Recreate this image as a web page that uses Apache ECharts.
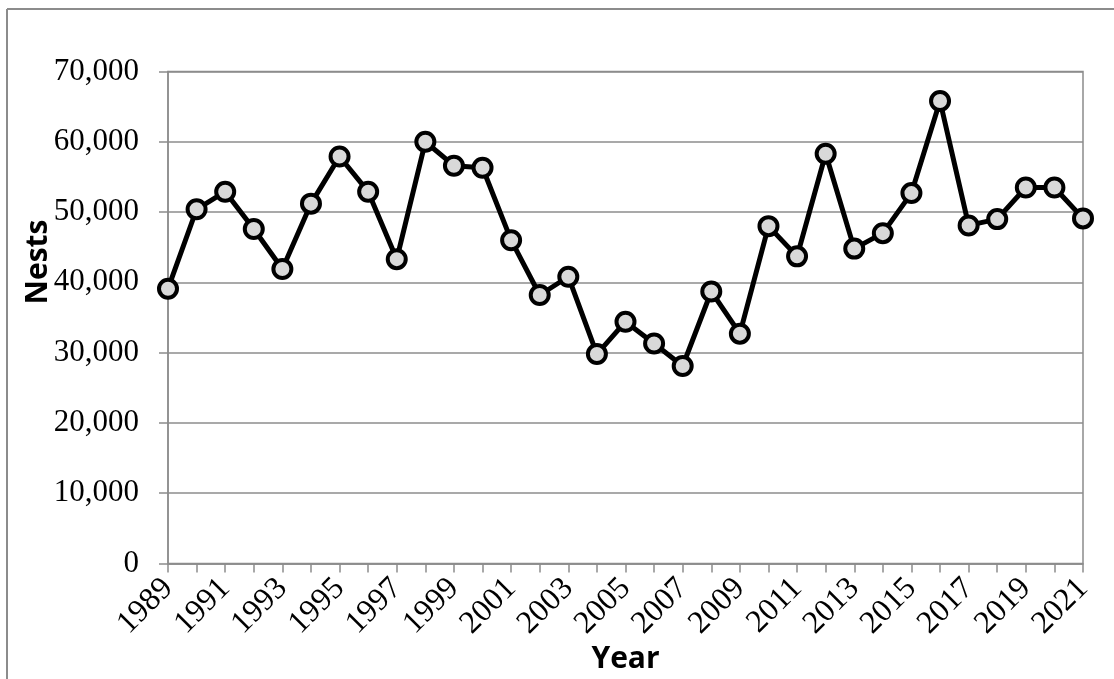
<!DOCTYPE html>
<html>
<head>
<meta charset="utf-8">
<script src="https://cdn.jsdelivr.net/npm/echarts@6/dist/echarts.min.js"></script>
<style>
html,body{margin:0;padding:0;background:#fff;}
#chart{width:1114px;height:679px;}
</style>
</head>
<body>
<div id="chart"></div>
<script>
const years = ['1989','1990','1991','1992','1993','1994','1995','1996','1997','1998','1999','2000','2001','2002','2003','2004','2005','2006','2007','2008','2009','2010','2011','2012','2013','2014','2015','2016','2017','2018','2019','2020','2021'];
const nests = [39100,50400,52900,47600,41900,51200,57900,52900,43300,60000,56600,56300,46000,38200,40800,29800,34400,31300,28100,38700,32700,48000,43700,58300,44800,47000,52700,65800,48100,49000,53500,53500,49100];
const yTicks = {min:0, max:70000, interval:10000};

const chart = echarts.init(document.getElementById('chart'), null, {renderer:'canvas'});
const grey = '#8c8c8c';
chart.setOption({
  animation:false,
  backgroundColor:'#fff',
  grid:{left:168, right:31, top:71.5, bottom:115.5, show:true, borderColor:grey, borderWidth:1.5, containLabel:false, outerBoundsMode:'none'},
  graphic:[
    {type:'line', shape:{x1:7,y1:9,x2:1114,y2:9}, style:{stroke:grey,lineWidth:2}},
    {type:'line', shape:{x1:7,y1:9,x2:7,y2:679}, style:{stroke:grey,lineWidth:2}},
    {type:'text', x:38, y:262, rotation:Math.PI/2, style:{text:'Nests', font:'bold 30px Open Sans', fill:'#000', textAlign:'center', textVerticalAlign:'middle'}},
    {type:'text', x:625.5, y:659, style:{text:'Year', font:'bold 30px Open Sans', fill:'#000', textAlign:'center', textVerticalAlign:'middle'}}
  ],
  xAxis:{
    type:'category', data:years, boundaryGap:false,
    axisLine:{lineStyle:{color:grey,width:1.5}},
    axisTick:{show:true, interval:0, length:9, lineStyle:{color:grey,width:1.5}},
    axisLabel:{interval:1, rotate:45, margin:20, color:'#000', fontFamily:'Liberation Serif', fontSize:32, hideOverlap:false},
    splitLine:{show:false}
  },
  yAxis:{
    type:'value', min:yTicks.min, max:yTicks.max, interval:yTicks.interval,
    axisLine:{show:true, lineStyle:{color:grey,width:1.5}},
    axisTick:{show:true, length:9, lineStyle:{color:grey,width:1.5}},
    axisLabel:{margin:29, color:'#000', fontFamily:'Liberation Serif', fontSize:31,
      formatter:v=>v.toLocaleString('en-US')},
    splitLine:{show:true, lineStyle:{color:grey,width:1.5}}
  },
  series:[{
    type:'line', data:nests, showAllSymbol:true,
    lineStyle:{color:'#000', width:5},
    symbol:'circle', symbolSize:18,
    itemStyle:{color:'#d9d9d9', borderColor:'#000', borderWidth:4},
    z:5
  }]
});
</script>
</body>
</html>
